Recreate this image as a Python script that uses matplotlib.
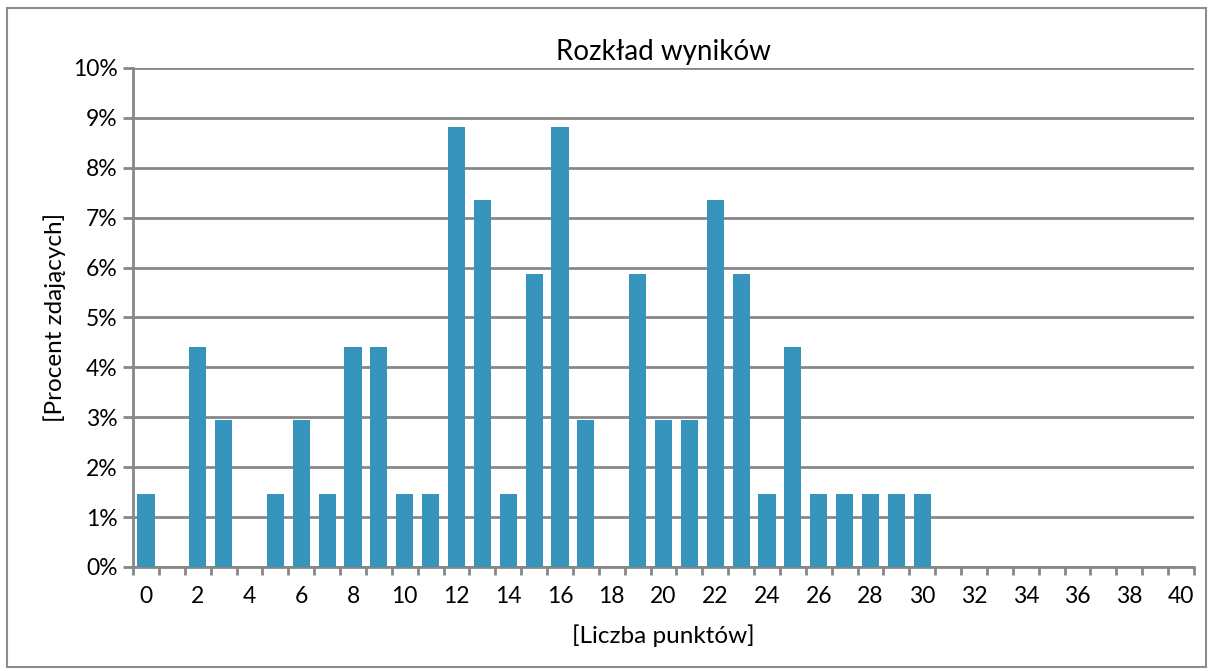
import matplotlib
matplotlib.use("Agg")
import matplotlib.pyplot as plt
from matplotlib.ticker import FuncFormatter, MultipleLocator
from matplotlib.patches import Rectangle

plt.rcParams["font.family"] = ["Lato", "DejaVu Sans"]

# Liczba punktów 0..40 oraz procent zdających
points = list(range(0, 41))
percent = [1.47, 0, 4.41, 2.94, 0, 1.47, 2.94, 1.47, 4.41, 4.41,
           1.47, 1.47, 8.82, 7.35, 1.47, 5.88, 8.82, 2.94, 0, 5.88,
           2.94, 2.94, 7.35, 5.88, 1.47, 4.41, 1.47, 1.47, 1.47, 1.47,
           1.47, 0, 0, 0, 0, 0, 0, 0, 0, 0, 0]
tick_labels = [str(p) if p % 2 == 0 else "" for p in points]

bar_color = "#3795bd"
grid_color = "#878787"

fig = plt.figure(figsize=(12.13, 6.71), dpi=100)
ax = fig.add_axes([0.1097, 0.155, 0.8746, 0.7437])

ax.bar(points, percent, width=0.66, color=bar_color, zorder=3)

ax.set_xlim(-0.5, 40.5)
ax.set_ylim(0, 10)
ax.yaxis.set_major_locator(MultipleLocator(1))
ax.yaxis.set_major_formatter(FuncFormatter(lambda v, p: f"{v:.0f}%"))
ax.grid(axis="y", color=grid_color, linewidth=2, zorder=0)

# tick labels under every second category, tick marks at category borders
ax.set_xticks(points)
ax.set_xticklabels(tick_labels)
ax.tick_params(axis="x", which="major", length=0, labelsize=16.5, pad=14)
ax.set_xticks([p - 0.5 for p in points] + [40.5], minor=True)
ax.tick_params(axis="x", which="minor", length=6, width=2, color=grid_color)
ax.tick_params(axis="y", length=7, width=2, color=grid_color, labelsize=16.5, pad=4)

for side in ["top", "right"]:
    ax.spines[side].set_visible(False)
for side in ["left", "bottom"]:
    ax.spines[side].set_color(grid_color)
    ax.spines[side].set_linewidth(2)

ax.set_title("Rozkład wyników", fontsize=20, pad=6)
ax.set_xlabel("[Liczba punktów]", fontsize=17.5, labelpad=12)
ax.set_ylabel("[Procent zdających]", fontsize=17.5, labelpad=5)

# ramka wokół wykresu
fig.patches.append(Rectangle((0.006, 0.006), 0.988, 0.982, transform=fig.transFigure,
                             fill=False, edgecolor="#8c8c8c", linewidth=1.5))

plt.savefig("out.png", dpi=100)
